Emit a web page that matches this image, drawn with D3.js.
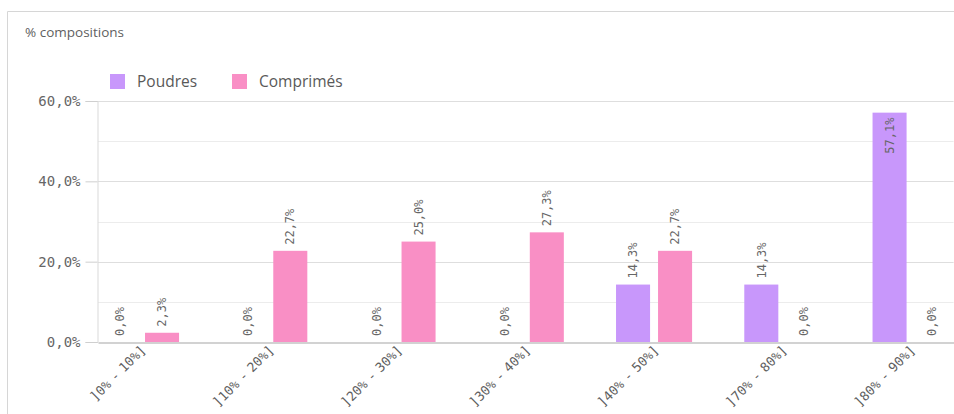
<!DOCTYPE html>
<html>
<head>
<meta charset="utf-8">
<script src="https://cdn.jsdelivr.net/npm/d3@7"></script>
<style>
  html, body { margin: 0; padding: 0; background: #fff; }
  svg { display: block; }
</style>
</head>
<body>
<svg id="chart" width="954" height="414"></svg>
<script>
// Tranches de teneur et parts de compositions par forme galénique
const categories = ["]0% - 10%]", "]10% - 20%]", "]20% - 30%]", "]30% - 40%]", "]40% - 50%]", "]70% - 80%]", "]80% - 90%]"];
const seriesNames = ["Poudres", "Comprimés"];
const poudres = [0.0, 0.0, 0.0, 0.0, 14.3, 14.3, 57.1];
const comprimes = [2.3, 22.7, 25.0, 27.3, 22.7, 0.0, 0.0];
const yTicks = [0, 20, 40, 60];
const yMinorTicks = [10, 30, 50];
const colors = ["#c897fb", "#f98fc5"];

const svg = d3.select("#chart");
const W = 954, H = 414;
const margin = { left: 98, right: 0, top: 101, bottom: 72 };
const plotRight = 953.6;
const plotBottom = H - margin.bottom; // 342

const fr = v => d3.format(".1f")(v).replace(".", ",") + "%";
const sans = "'Open Sans', 'Noto Sans', sans-serif";
const mono = "'DejaVu Sans Mono', monospace";

// Cadre
svg.append("path")
  .attr("d", `M7.5,${H} V11.5 H${W}`)
  .attr("fill", "none")
  .attr("stroke", "#d6d6d6")
  .attr("stroke-width", 1);

// Titre de l'axe
svg.append("text")
  .attr("x", 25).attr("y", 37)
  .attr("font-family", sans)
  .attr("font-size", 13.5)
  .attr("fill", "#5f5f5f")
  .text("% compositions");

// Légende
const legend = svg.append("g");
const legendX = [110, 232];
seriesNames.forEach((name, i) => {
  legend.append("rect")
    .attr("x", legendX[i]).attr("y", 74)
    .attr("width", 15).attr("height", 15)
    .attr("fill", colors[i]);
  legend.append("text")
    .attr("x", legendX[i] + 27).attr("y", 87)
    .attr("font-family", sans)
    .attr("font-size", 15.5)
    .attr("fill", "#595959")
    .text(name);
});

// Échelles
const y = d3.scaleLinear().domain([0, 60]).range([plotBottom, margin.top]);
const x0 = d3.scaleBand()
  .domain(categories)
  .range([margin.left, plotRight])
  .paddingInner(0.407)
  .paddingOuter(0.039);
const x1 = d3.scaleBand()
  .domain(seriesNames)
  .range([0, x0.bandwidth()])
  .paddingInner(0.19);

// Grille
const grid = svg.append("g");
grid.selectAll("line.minor")
  .data(yMinorTicks)
  .join("line")
  .attr("x1", margin.left).attr("x2", plotRight)
  .attr("y1", d => Math.round(y(d)) + 0.5).attr("y2", d => Math.round(y(d)) + 0.5)
  .attr("stroke", "#ececec");
grid.selectAll("line.major")
  .data(yTicks.filter(d => d > 0))
  .join("line")
  .attr("x1", margin.left).attr("x2", plotRight)
  .attr("y1", d => Math.round(y(d)) + 0.5).attr("y2", d => Math.round(y(d)) + 0.5)
  .attr("stroke", "#dedede");

// Axe Y
const yAxis = svg.append("g")
  .attr("transform", `translate(${margin.left - 0.5},0)`)
  .call(d3.axisLeft(y).tickValues(yTicks).tickSize(12).tickPadding(5).tickFormat(fr));
yAxis.select(".domain").attr("stroke", "#d9d9d9");
yAxis.selectAll(".tick line").attr("stroke", "#cfcfcf");
yAxis.selectAll(".tick text")
  .attr("font-family", mono)
  .attr("font-size", 14)
  .attr("fill", "#666");

// Barres
const data = categories.map((c, i) => ({ cat: c, values: [poudres[i], comprimes[i]] }));
const groups = svg.append("g").selectAll("g")
  .data(data)
  .join("g")
  .attr("transform", d => `translate(${x0(d.cat)},0)`);

groups.selectAll("rect")
  .data(d => d.values.map((v, i) => ({ s: seriesNames[i], v, i })))
  .join("rect")
  .attr("x", d => x1(d.s))
  .attr("width", x1.bandwidth())
  .attr("y", d => y(d.v))
  .attr("height", d => plotBottom - y(d.v))
  .attr("fill", d => colors[d.i]);

// Étiquettes de valeur (verticales), placées dans la barre si la place manque au-dessus
const isInside = d => y(d.v) - 45 < margin.top;
groups.selectAll("text")
  .data(d => d.values.map((v, i) => ({ s: seriesNames[i], v, i })))
  .join("text")
  .attr("transform", d => {
    const cx = x1(d.s) + x1.bandwidth() / 2;
    const ty = isInside(d) ? y(d.v) + 5 : y(d.v) - 6;
    return `translate(${cx},${ty}) rotate(-90)`;
  })
  .attr("text-anchor", d => (isInside(d) ? "end" : "start"))
  .attr("dy", "0.35em")
  .attr("font-family", mono)
  .attr("font-size", 12)
  .attr("fill", "#666")
  .text(d => fr(d.v));

// Axe X
const xAxis = svg.append("g")
  .attr("transform", `translate(0,${plotBottom + 0.5})`)
  .call(d3.axisBottom(x0).tickSize(0).tickPadding(0));
xAxis.select(".domain").attr("stroke", "#a6a6a6").attr("stroke-width", 1.2);
xAxis.selectAll(".tick text")
  .attr("font-family", mono)
  .attr("font-size", 13)
  .attr("word-spacing", -3)
  .attr("fill", "#5e5e5e")
  .attr("text-anchor", "end")
  .attr("transform", "translate(-1,2) rotate(-45)")
  .attr("dy", "0.7em");
</script>
</body>
</html>
